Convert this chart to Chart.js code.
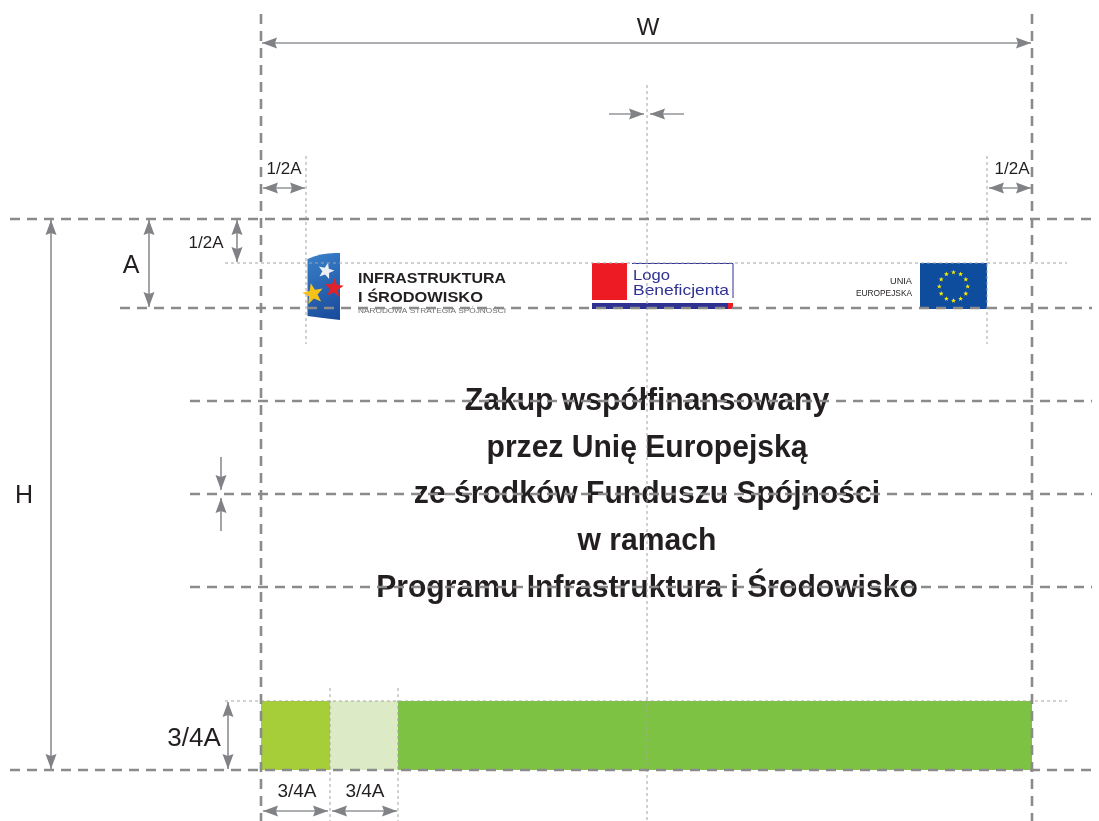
<!DOCTYPE html>
<html>
<head>
<meta charset="utf-8">
<script src="https://cdn.jsdelivr.net/npm/chart.js@4.4.1/dist/chart.umd.min.js"></script>
<style>
  html, body { margin: 0; padding: 0; background: #fff; }
  canvas { display: block; }
</style>
</head>
<body>
<canvas id="layout" width="1099" height="821"></canvas>
<script>
// template units: 1 unit = 1 px of the sheet, y grows downward

// heavy dashed construction lines [x1, y1, x2, y2]
const guideLines = [
  [261, 14, 261, 821],
  [1032, 14, 1032, 821],
  [10, 219, 1092, 219],
  [120, 308, 1092, 308],
  [190, 401, 1092, 401],
  [190, 494, 1092, 494],
  [190, 587, 1092, 587],
  [10, 770, 1092, 770]
];

// fine dotted helper lines [x1, y1, x2, y2]
const thinLines = [
  [647, 85, 647, 821],
  [306, 156, 306, 344],
  [987, 156, 987, 344],
  [225, 263, 1067, 263],
  [225, 701, 1067, 701],
  [330, 688, 330, 821],
  [398, 688, 398, 821]
];

// dimension arrows [x1, y1, x2, y2, head at start, head at end]
const arrows = [
  [262, 43, 1031, 43, 1, 1],
  [609, 114, 644, 114, 0, 1],
  [684, 114, 650, 114, 0, 1],
  [263, 188, 305, 188, 1, 1],
  [989, 188, 1031, 188, 1, 1],
  [149, 220, 149, 307, 1, 1],
  [237, 220, 237, 262, 1, 1],
  [51, 220, 51, 769, 1, 1],
  [221, 457, 221, 490, 0, 1],
  [221, 531, 221, 498, 0, 1],
  [228, 702, 228, 769, 1, 1],
  [263, 811, 328, 811, 1, 1],
  [332, 811, 397, 811, 1, 1]
];

// colour band at the bottom
const bandStops = [261, 330, 398, 1032];
const bandTop = 701;
const bandBottom = 770;
const bandColors = ['#A6CE39', '#DCEAC5', '#7DC242'];

// dimension labels [text, x, baseline]
const labels = [
  ['W', 648, 35],
  ['1/2A', 284, 174],
  ['1/2A', 1012, 174],
  ['1/2A', 206, 248],
  ['A', 131, 273],
  ['H', 24, 503],
  ['3/4A', 194, 746],
  ['3/4A', 297, 797],
  ['3/4A', 365, 797]
];
const labelSizes = [24, 17, 17, 17, 25, 25, 26, 19, 19];

const headline = [
  'Zakup współfinansowany',
  'przez Unię Europejską',
  'ze środków Funduszu Spójności',
  'w ramach',
  'Programu Infrastruktura i Środowisko'
];
const headlineBase = [410, 457, 503, 550, 597];

const ink = '#231F20';
const font = '"Liberation Sans", Arial, sans-serif';

const datasets = [];
guideLines.forEach(([x1, y1, x2, y2]) => datasets.push({
  data: [{x: x1, y: y1}, {x: x2, y: y2}],
  borderColor: '#8B8B8B', borderWidth: 2.6, borderDash: [10, 7], order: 1
}));
thinLines.forEach(([x1, y1, x2, y2]) => datasets.push({
  data: [{x: x1, y: y1}, {x: x2, y: y2}],
  borderColor: '#A3A3A3', borderWidth: 1, borderDash: [3, 3], order: 2
}));
arrows.forEach(([x1, y1, x2, y2, s, e]) => datasets.push({
  data: [{x: x1, y: y1}, {x: x2, y: y2}],
  borderColor: '#939598', borderWidth: 1.7, arrow: [s, e], order: 0
}));
bandColors.forEach((c, i) => datasets.push({
  data: [{x: bandStops[i], y: bandTop}, {x: bandStops[i + 1], y: bandTop}],
  borderColor: 'transparent', borderWidth: 0, backgroundColor: c,
  fill: {value: bandBottom}, order: 5
}));

function head(ctx, from, tip) {
  const a = Math.atan2(tip.y - from.y, tip.x - from.x);
  ctx.save();
  ctx.translate(tip.x, tip.y);
  ctx.rotate(a);
  ctx.beginPath();
  ctx.moveTo(0, 0);
  ctx.lineTo(-15, -5.5);
  ctx.lineTo(-13, 0);
  ctx.lineTo(-15, 5.5);
  ctx.closePath();
  ctx.fillStyle = '#808285';
  ctx.fill();
  ctx.restore();
}

function star(ctx, cx, cy, R, r, rot, color) {
  ctx.beginPath();
  for (let i = 0; i < 10; i++) {
    const a = rot + i * Math.PI / 5 - Math.PI / 2;
    const d = i % 2 ? r : R;
    ctx.lineTo(cx + d * Math.cos(a), cy + d * Math.sin(a));
  }
  ctx.closePath();
  ctx.fillStyle = color;
  ctx.fill();
}

// draw text squeezed/stretched to a given width
function fitText(ctx, t, x, y, w) {
  const m = ctx.measureText(t).width;
  ctx.save();
  ctx.translate(x, y);
  ctx.scale(w / m, 1);
  ctx.fillText(t, 0, 0);
  ctx.restore();
}

const artwork = {
  id: 'artwork',
  beforeDatasetsDraw(chart) {
    const {ctx, scales: {x, y}} = chart;
    const X = v => x.getPixelForValue(v);
    const Y = v => y.getPixelForValue(v);
    ctx.save();

    // headline
    ctx.fillStyle = ink;
    ctx.textAlign = 'center';
    ctx.font = 'bold 32px ' + font;
    headline.forEach((t, i) => {
      ctx.save();
      ctx.translate(X(647), Y(headlineBase[i]));
      ctx.scale(0.94, 1);
      ctx.fillText(t, 0, 0);
      ctx.restore();
    });

    // dimension labels
    labels.forEach(([t, lx, ly], i) => {
      ctx.font = labelSizes[i] + 'px ' + font;
      ctx.fillText(t, X(lx), Y(ly));
    });

    // Infrastruktura i Srodowisko logo
    const g = ctx.createLinearGradient(X(308), Y(254), X(340), Y(320));
    g.addColorStop(0, '#3A80C9');
    g.addColorStop(1, '#17499A');
    ctx.beginPath();
    ctx.moveTo(X(307.5), Y(259));
    ctx.quadraticCurveTo(X(322), Y(252), X(340), Y(253));
    ctx.lineTo(X(340), Y(320));
    ctx.quadraticCurveTo(X(322), Y(318), X(307.5), Y(316));
    ctx.closePath();
    ctx.fillStyle = g;
    ctx.fill();
    star(ctx, X(326), Y(271), 8.5, 3.6, 0.25, '#EDEFF2');
    star(ctx, X(334), Y(288), 10, 4.2, 0.1, '#E1222B');
    star(ctx, X(313), Y(294), 11, 4.6, -0.2, '#F6C21A');

    ctx.textAlign = 'left';
    ctx.fillStyle = ink;
    ctx.font = 'bold 15px ' + font;
    fitText(ctx, 'INFRASTRUKTURA', X(358), Y(283), 148);
    fitText(ctx, 'I ŚRODOWISKO', X(358), Y(301.5), 125);
    ctx.fillStyle = '#6D6E71';
    ctx.font = '8px ' + font;
    fitText(ctx, 'NARODOWA STRATEGIA SPÓJNOŚCI', X(358), Y(312.5), 148);

    // Logo Beneficjenta
    ctx.fillStyle = '#ED1C24';
    ctx.fillRect(X(592), Y(263), X(627) - X(592), Y(300) - Y(263));
    ctx.strokeStyle = '#2E3192';
    ctx.lineWidth = 1;
    ctx.beginPath();
    ctx.moveTo(X(632), Y(263.5));
    ctx.lineTo(X(733), Y(263.5));
    ctx.lineTo(X(733), Y(298));
    ctx.stroke();
    ctx.fillStyle = '#2E3192';
    ctx.fillRect(X(592), Y(303), X(733) - X(592), Y(309) - Y(303));
    ctx.fillStyle = '#ED1C24';
    ctx.fillRect(X(728), Y(303), X(733) - X(728), Y(309) - Y(303));
    ctx.fillStyle = '#2E3192';
    ctx.font = '15px ' + font;
    fitText(ctx, 'Logo', X(633), Y(280), 37);
    fitText(ctx, 'Beneficjenta', X(633), Y(294.5), 96);

    // EU flag
    ctx.fillStyle = '#0E4C9E';
    ctx.fillRect(X(920), Y(263), X(987) - X(920), Y(309) - Y(263));
    for (let k = 0; k < 12; k++) {
      const a = k * Math.PI / 6;
      star(ctx, X(953.5) + 14.2 * Math.sin(a), Y(286.5) - 14.2 * Math.cos(a), 2.6, 1.05, 0, '#FFED00');
    }
    ctx.fillStyle = ink;
    ctx.font = '9px ' + font;
    fitText(ctx, 'UNIA', X(890), Y(284), 22);
    fitText(ctx, 'EUROPEJSKA', X(856), Y(295.5), 56);

    ctx.restore();
  }
};

const arrowHeads = {
  id: 'arrowHeads',
  afterDatasetsDraw(chart) {
    chart.data.datasets.forEach((ds, i) => {
      if (!ds.arrow) return;
      const [p0, p1] = chart.getDatasetMeta(i).data;
      if (ds.arrow[0]) head(chart.ctx, p1, p0);
      if (ds.arrow[1]) head(chart.ctx, p0, p1);
    });
  }
};

new Chart(document.getElementById('layout'), {
  type: 'line',
  data: { datasets },
  options: {
    responsive: false,
    animation: false,
    events: [],
    layout: { padding: 0 },
    elements: { point: { radius: 0, hoverRadius: 0 }, line: { tension: 0 } },
    plugins: {
      legend: { display: false },
      tooltip: { enabled: false }
    },
    scales: {
      x: { type: 'linear', min: 0, max: 1099, display: false },
      y: { type: 'linear', min: 0, max: 821, reverse: true, display: false }
    }
  },
  plugins: [artwork, arrowHeads]
});
</script>
</body>
</html>
